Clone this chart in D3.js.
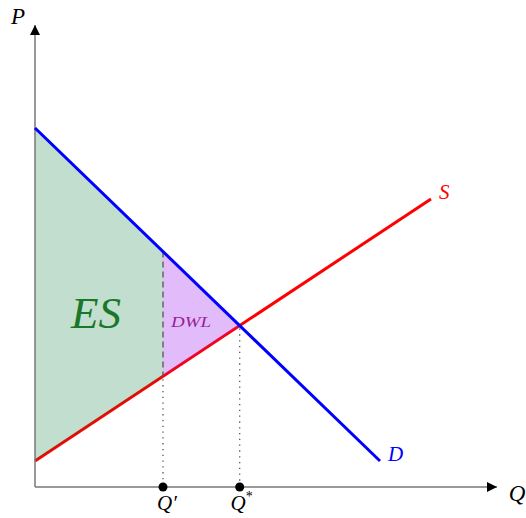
<!DOCTYPE html>
<html>
<head>
<meta charset="utf-8">
<script src="https://cdn.jsdelivr.net/npm/d3@7"></script>
<style>
  body { margin: 0; background: #fff; }
  text { font-family: "Liberation Serif", "DejaVu Serif", serif; font-style: italic; }
</style>
</head>
<body>
<svg width="526" height="518"></svg>
<script>
/* globals d3 */

const width = 526;
const height = 518;

// curves as [Q, P] end points
const demand = [[0, 8.975], [8.625, 0.65]];
const supply = [[0, 0.65], [9.9, 7.2]];
const qPrime = 3.2;
const axisMax = [11.55, 11.55];
const labels = {q: "Q", p: "P", s: "S", d: "D", qPrime: "Q′", qStar: "Q", es: "ES", dwl: "DWL"};

const x = d3.scaleLinear([0, axisMax[0]], [35, 497]);
const y = d3.scaleLinear([0, axisMax[1]], [487, 25]);

// linear helpers
const lineAt = (seg, q) => seg[0][1] + (seg[1][1] - seg[0][1]) * (q - seg[0][0]) / (seg[1][0] - seg[0][0]);
const slope = seg => (seg[1][1] - seg[0][1]) / (seg[1][0] - seg[0][0]);
const qStar = (supply[0][1] - demand[0][1]) / (slope(demand) - slope(supply));
const pStar = lineAt(demand, qStar);

const svg = d3.select("svg");
const line = d3.line().x(d => x(d[0])).y(d => y(d[1]));

const defs = svg.append("defs");
defs.append("marker")
    .attr("id", "arrow")
    .attr("viewBox", "0 0 10 10")
    .attr("refX", 10).attr("refY", 5)
    .attr("markerWidth", 13).attr("markerHeight", 10)
    .attr("markerUnits", "userSpaceOnUse")
    .attr("orient", "auto")
  .append("path")
    .attr("d", "M0,0L10,5L0,10z")
    .attr("fill", "#000");

// supply line first, fills sit on it
svg.append("path")
    .attr("d", line(supply))
    .attr("fill", "none")
    .attr("stroke", "#ff0000")
    .attr("stroke-width", 3);

const esPoly = [[0, demand[0][1]], [qPrime, lineAt(demand, qPrime)], [qPrime, lineAt(supply, qPrime)], [0, supply[0][1]]];
svg.append("path")
    .attr("d", line(esPoly) + "Z")
    .attr("fill", "rgb(0,115,50)")
    .attr("fill-opacity", 0.24);

const dwlPoly = [[qPrime, lineAt(demand, qPrime)], [qStar, pStar], [qPrime, lineAt(supply, qPrime)]];
svg.append("path")
    .attr("d", line(dwlPoly) + "Z")
    .attr("fill", "rgb(160,32,240)")
    .attr("fill-opacity", 0.3);

// axes
svg.append("line")
    .attr("x1", x(0)).attr("y1", y(0))
    .attr("x2", x(axisMax[0])).attr("y2", y(0))
    .attr("stroke", "#777").attr("stroke-width", 1.5)
    .attr("marker-end", "url(#arrow)");
svg.append("line")
    .attr("x1", x(0)).attr("y1", y(0))
    .attr("x2", x(0)).attr("y2", y(axisMax[1]))
    .attr("stroke", "#777").attr("stroke-width", 1.5)
    .attr("marker-end", "url(#arrow)");

// guides
svg.append("line")
    .attr("x1", x(qPrime)).attr("x2", x(qPrime))
    .attr("y1", y(lineAt(demand, qPrime))).attr("y2", y(lineAt(supply, qPrime)))
    .attr("stroke", "#555").attr("stroke-width", 1.3)
    .attr("stroke-dasharray", "6,4");
svg.append("line")
    .attr("x1", x(qPrime)).attr("x2", x(qPrime))
    .attr("y1", y(lineAt(supply, qPrime)) + 3).attr("y2", y(0))
    .attr("stroke", "#555").attr("stroke-width", 1.3)
    .attr("stroke-dasharray", "1.3,4.5");
svg.append("line")
    .attr("x1", x(qStar)).attr("x2", x(qStar))
    .attr("y1", y(pStar) + 3).attr("y2", y(0))
    .attr("stroke", "#555").attr("stroke-width", 1.3)
    .attr("stroke-dasharray", "1.3,4.5");

svg.append("path")
    .attr("d", line(demand))
    .attr("fill", "none")
    .attr("stroke", "#0000ff")
    .attr("stroke-width", 3);

svg.selectAll("circle.q")
  .data([qPrime, qStar])
  .join("circle")
    .attr("cx", d => x(d))
    .attr("cy", y(0))
    .attr("r", 4.5)
    .attr("fill", "#000");

// labels
const txt = (t, px, py, size, color, anchor = "middle") => svg.append("text")
    .attr("x", px).attr("y", py)
    .attr("font-size", size)
    .attr("fill", color)
    .attr("text-anchor", anchor)
    .text(t);

txt(labels.p, 18, 24, 23, "#000");
txt(labels.q, 517, 501, 23, "#000");
txt(labels.s, x(supply[1][0]) + 8, y(supply[1][1]), 21, "#ff0000", "start");
txt(labels.d, x(demand[1][0]) + 8, y(demand[1][1]), 21, "#0000ff", "start");
txt(labels.qPrime, x(qPrime) + 4, y(0) + 23, 21, "#000");
txt(labels.qStar, x(qStar) + 2, y(0) + 23, 21, "#000")
  .append("tspan")
    .attr("dy", -9)
    .attr("font-size", 14)
    .attr("font-style", "normal")
    .text("*");
txt(labels.es, 96, 328, 45, "rgb(25,120,40)");
txt(labels.dwl, 191, 327, 15, "rgb(150,30,150)")
    .attr("textLength", 40)
    .attr("lengthAdjust", "spacingAndGlyphs");
</script>
</body>
</html>
